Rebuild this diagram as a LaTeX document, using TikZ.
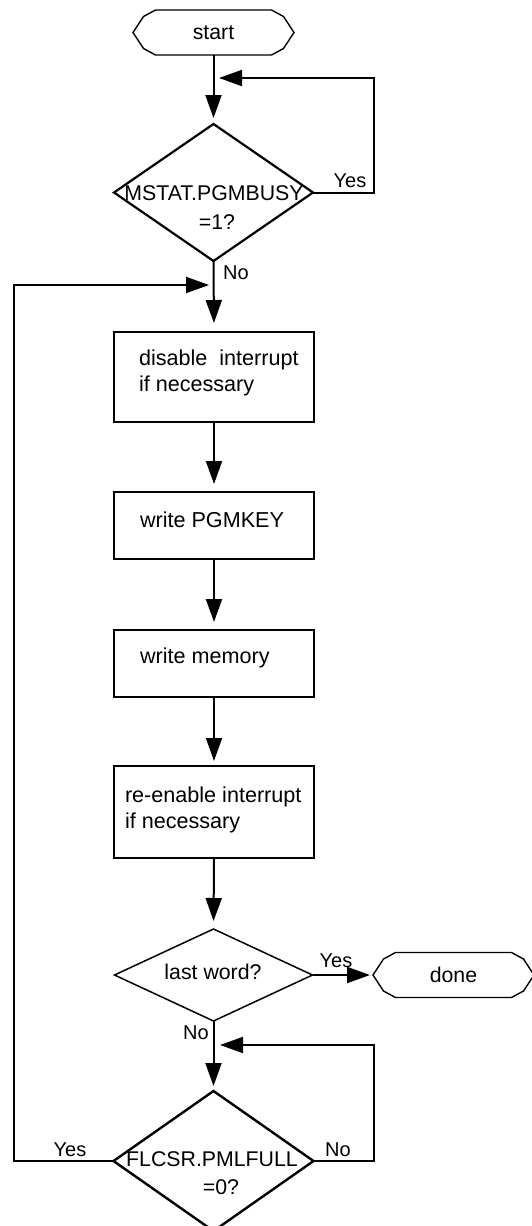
\documentclass[tikz,border=0pt]{standalone}
\usepackage{fontspec}
\setmainfont{Liberation Sans}
\usetikzlibrary{arrows.meta,shapes.geometric}
\newcommand\termoutline[1]{%
  \draw[termline] ([shift={(-80.5,0)}]#1.center) -- ([shift={(-70,-16)}]#1.center)
   -- ([shift={(-58,-22.5)}]#1.center) -- ([shift={(58,-22.5)}]#1.center)
   -- ([shift={(70,-16)}]#1.center) -- ([shift={(80.5,0)}]#1.center)
   -- ([shift={(70,16)}]#1.center) -- ([shift={(58,22.5)}]#1.center)
   -- ([shift={(-58,22.5)}]#1.center) -- ([shift={(-70,16)}]#1.center) -- cycle;}
\begin{document}
\begin{tikzpicture}[x=1pt,y=-1pt,
  every node/.style={inner sep=0pt, outer sep=0pt},
  txt/.style={font=\fontsize{21.6}{26}\selectfont, align=left},
  dtxt/.style={font=\fontsize{21.3}{26}\selectfont},
  lbl/.style={font=\fontsize{20}{24}\selectfont},
  procbox/.style={draw, line width=2.2pt, rectangle, minimum width=200pt},
  decision/.style={draw, diamond, aspect=1},
  termnode/.style={minimum width=161pt, minimum height=45pt, font=\fontsize{21.3}{26}\selectfont},
  termline/.style={line width=1.4pt, line join=miter},
  flow/.style={line width=2pt, -{Triangle[length=23pt,width=16pt]}},
]
\useasboundingbox (0,0) rectangle (532,1226);

% terminals
\node[termnode] (start) at (213.5,32.5) {start};
\termoutline{start}
\node[termnode, minimum height=46pt] (done) at (453.5,975) {done};
\termoutline{done}

% decisions
\node[decision, line width=2.2pt, minimum width=199pt, minimum height=137pt] (d1) at (213.5,192.5) {};
\node[dtxt] (d1a) at (214,193) {MSTAT.PGMBUSY};
\node[dtxt] (d1b) at (217,222) {=1?};

\node[decision, line width=1.5pt, minimum width=198pt, minimum height=92pt] (d2) at (213.5,975) {};
\node[dtxt] (d2a) at (213,972) {last word?};

\node[decision, line width=2.4pt, minimum width=200pt, minimum height=140pt] (d3) at (213.5,1161) {};
\node[dtxt] (d3a) at (212,1159) {FLCSR.PMLFULL};
\node[dtxt] (d3b) at (221,1187) {=0?};

% process boxes
\node[procbox, minimum height=90pt] (b1) at (214,377) {};
\node[txt, anchor=west] (b1t) at (139,373) {disable\ \ interrupt\\if necessary};
\node[procbox, minimum height=67pt] (b2) at (214,525.5) {};
\node[txt, anchor=west] (b2t) at (140,520) {write PGMKEY};
\node[procbox, minimum height=67pt] (b3) at (214,663.5) {};
\node[txt, anchor=west] (b3t) at (140,658) {write memory};
\node[procbox, minimum height=92pt] (b4) at (214,812) {};
\node[txt, anchor=west] (b4t) at (125,810) {re-enable interrupt\\if necessary};

% junction points on the main line
\coordinate (j1) at (213.5,78);
\coordinate (j2) at (213.5,285);
\coordinate (j3) at (213.5,1045);

% connectors
\draw[flow, shorten >=6pt] (start.south) -- (d1.north);
\draw[flow, shorten >=5.5pt] (d1.east) -- ++(61,0) |- (j1);
\draw[flow, shorten >=9pt] (d1.south) -- (b1.north);
\draw[flow, shorten >=8pt] (b1.south) -- (b2.north);
\draw[flow, shorten >=8pt] (b2.south) -- (b3.north);
\draw[flow, shorten >=5pt] (b3.south) -- (b4.north);
\draw[flow, shorten >=8pt] (b4.south) -- (d2.north);
\draw[flow, shorten >=3pt] (d2.east) -- (done.west);
\draw[flow, shorten >=5pt] (d2.south) -- (d3.north);
\draw[flow, shorten >=6.5pt] (d3.east) -- ++(60,0) |- (j3);
\draw[flow, shorten >=4.5pt] (d3.west) -- ++(-100,0) |- (j2);

% labels
\node[lbl] (l1) at (350,181) {Yes};
\node[lbl] (l2) at (236,273) {No};
\node[lbl] (l3) at (336,961) {Yes};
\node[lbl] (l4) at (196,1033) {No};
\node[lbl] (l5) at (70,1150) {Yes};
\node[lbl] (l6) at (338,1150) {No};
\end{tikzpicture}
\end{document}
